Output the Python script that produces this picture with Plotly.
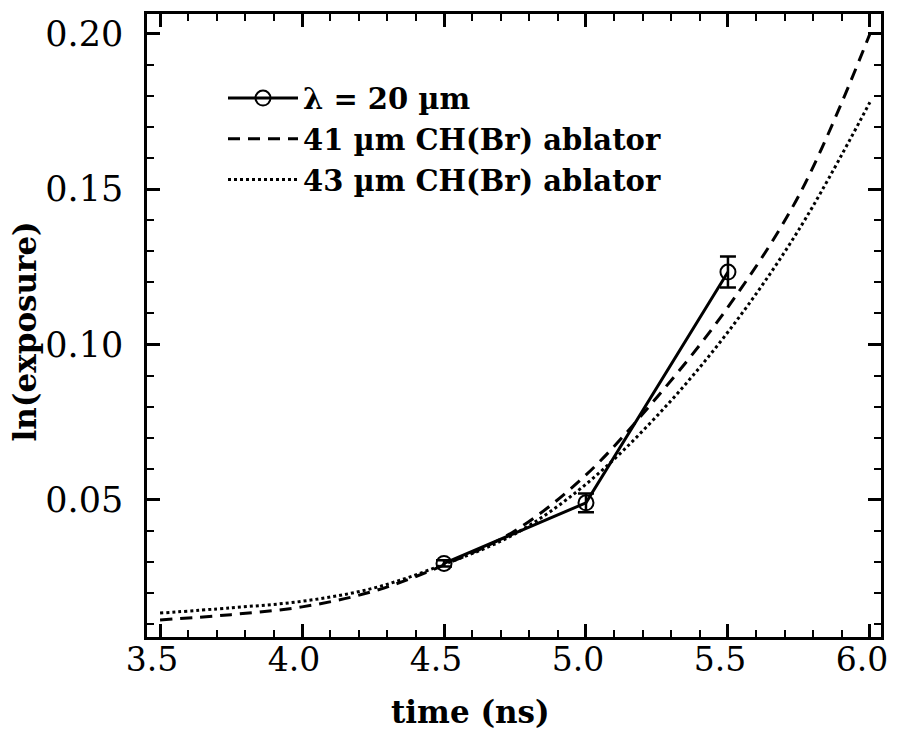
import plotly.graph_objects as go

# measured data (lambda = 20 um)
t_meas = [4.5, 5.0, 5.5]
ln_meas = [0.0295, 0.049, 0.1233]
err_meas = [0.001, 0.003, 0.005]

# simulation curves
t_sim = [3.5, 3.75, 4.0, 4.25, 4.5, 4.75, 5.0, 5.25, 5.5, 5.75, 6.0]
ln_41 = [0.0113, 0.0130, 0.0155, 0.0205, 0.0290, 0.0400, 0.0580, 0.0830, 0.1120, 0.1480, 0.2000]
ln_43 = [0.0135, 0.0152, 0.0173, 0.0215, 0.0292, 0.0390, 0.0550, 0.0770, 0.1040, 0.1370, 0.1780]

x_tickvals = [3.5, 4.0, 4.5, 5.0, 5.5, 6.0]
x_ticktext = ["3.5", "4.0", "4.5", "5.0", "5.5", "6.0"]
y_tickvals = [0.05, 0.10, 0.15, 0.20]
y_ticktext = ["0.05", "0.10", "0.15", "0.20"]

FONT = "DejaVu Serif"
OFF = 8  # page body margin
W, H = 899 - OFF, 744 - OFF
L, R, T, B = 147 - OFF, 18, 11 - OFF, 107
PW, PH = W - L - R, H - T - B

fig = go.Figure()
fig.add_trace(go.Scatter(
    x=t_meas, y=ln_meas, mode="lines+markers", name="λ = 20 µm",
    line=dict(color="black", width=3),
    marker=dict(symbol="circle-open", size=15, color="black", line=dict(width=2)),
    error_y=dict(type="data", array=err_meas, visible=True, color="black", thickness=2.5, width=8),
))
fig.add_trace(go.Scatter(
    x=t_sim, y=ln_41, mode="lines", name="41 µm CH(Br) ablator",
    line=dict(color="black", width=3, dash="12px,8px", shape="spline"),
))
fig.add_trace(go.Scatter(
    x=t_sim, y=ln_43, mode="lines", name="43 µm CH(Br) ablator",
    line=dict(color="black", width=3, dash="dot", shape="spline"),
))

axis_common = dict(
    showline=True, linecolor="black", linewidth=2.5, mirror="ticks",
    ticks="inside", ticklen=13, tickwidth=2.5, tickcolor="black",
    showgrid=False, zeroline=False,
)
fig.update_xaxes(range=[3.454, 6.039], tickvals=x_tickvals, ticktext=x_ticktext,
                 ticklabelstandoff=-8, ticklabelshift=-8,
                 tickfont=dict(family=FONT, size=33, color="black"),
                 minor=dict(dtick=0.1, tick0=3.5, ticks="inside", ticklen=7, tickwidth=2, tickcolor="black"),
                 **axis_common)
fig.update_yaxes(range=[0.0058, 0.2064], tickvals=y_tickvals, ticktext=y_ticktext,
                 ticklabelstandoff=14,
                 tickfont=dict(family=FONT, size=35, color="black"),
                 minor=dict(dtick=0.01, tick0=0, ticks="inside", ticklen=7, tickwidth=2, tickcolor="black"),
                 **axis_common)

fig.add_annotation(text="<b>time (ns)</b>", xref="paper", yref="paper",
                   x=(470 - 147) / PW, y=-(712 - 637) / PH, xanchor="center", yanchor="middle",
                   showarrow=False, font=dict(family=FONT, size=31, color="black"))
fig.add_annotation(text="<b>ln(exposure)</b>", xref="paper", yref="paper",
                   x=-(147 - 25) / PW, y=1 - (330 - 11) / PH, xanchor="center", yanchor="middle",
                   textangle=-90, showarrow=False, font=dict(family=FONT, size=31, color="black"))

fig.update_layout(
    width=W, height=H,
    margin=dict(l=L, r=R, t=T, b=B),
    plot_bgcolor="white", paper_bgcolor="white",
    legend=dict(x=(223 - 147) / PW, y=1 - (70 - 11) / PH, xanchor="left", yanchor="top",
                bgcolor="rgba(0,0,0,0)", itemwidth=70, tracegroupgap=0,
                font=dict(family=FONT, size=29, color="black", weight="bold")),
)

fig.write_html("out.html")
